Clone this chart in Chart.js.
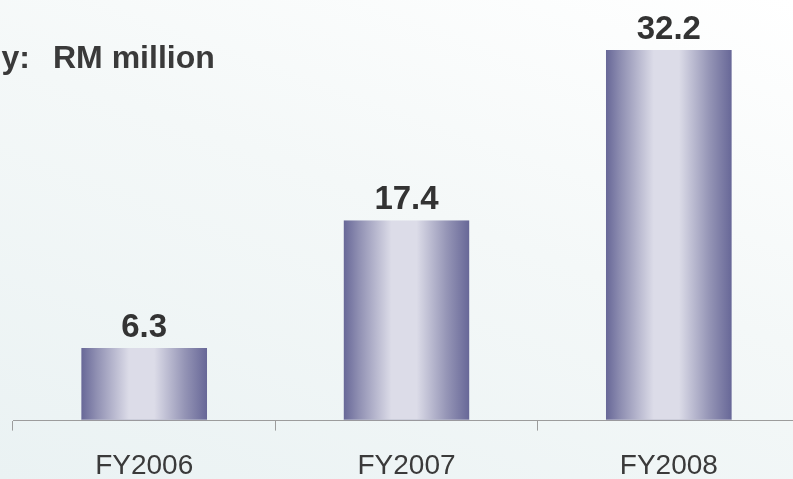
<!DOCTYPE html>
<html>
<head>
<meta charset="utf-8">
<script src="https://cdn.jsdelivr.net/npm/chart.js@4.4.1/dist/chart.umd.min.js"></script>
<style>
    html, body { margin: 0; padding: 0; overflow: hidden; }
    body {
        width: 793px;
        height: 479px;
        background: linear-gradient(200deg, #ffffff 0%, #f4f8f8 45%, #eaf2f3 100%);
    }
    #wrap { position: relative; width: 813px; height: 502px; }
</style>
</head>
<body>
<div id="wrap"><canvas id="graficoLucro"></canvas></div>
<script>
const anos = ['FY2006', 'FY2007', 'FY2008'];
const lucro = [6.3, 17.4, 32.2];
const unidade = 'RM million';

const larguraBarra = 0.48;

// gradiente horizontal de cada barra: escuro nas bordas, claro no meio
function corBarra(ctx) {
    const chart = ctx.chart;
    const area = chart.chartArea;
    if (!area || ctx.type !== 'data') return '#a9a9c6';
    const x = chart.scales.x;
    const centro = x.getPixelForValue(ctx.dataIndex);
    const meia = (x.width / anos.length) * larguraBarra / 2;
    const g = chart.ctx.createLinearGradient(centro - meia, 0, centro + meia, 0);
    g.addColorStop(0, '#676797');
    g.addColorStop(0.12, '#8f8fb2');
    g.addColorStop(0.38, '#dcdce8');
    g.addColorStop(0.58, '#dcdce8');
    g.addColorStop(0.82, '#9595b6');
    g.addColorStop(1, '#676797');
    return g;
}

const rotulosValor = {
    id: 'rotulosValor',
    afterDatasetsDraw(chart) {
        const c = chart.ctx;
        const meta = chart.getDatasetMeta(0);
        c.save();
        c.font = 'bold 33px "Liberation Sans", Arial, sans-serif';
        c.fillStyle = '#333333';
        c.textAlign = 'center';
        c.textBaseline = 'alphabetic';
        meta.data.forEach((bar, i) => {
            c.fillText(lucro[i].toFixed(1), bar.x, bar.y - 11);
        });
        c.restore();
    }
};

const tituloUnidade = {
    id: 'tituloUnidade',
    afterDraw(chart) {
        const c = chart.ctx;
        c.save();
        c.font = 'bold 32px "Liberation Sans", Arial, sans-serif';
        c.fillStyle = '#3a3a3a';
        c.textBaseline = 'alphabetic';
        c.textAlign = 'right';
        c.fillText('y:', 30, 68);
        c.textAlign = 'left';
        c.fillText(unidade, 53, 68);
        c.restore();
    }
};

new Chart(document.getElementById('graficoLucro'), {
    type: 'bar',
    data: {
        labels: anos,
        datasets: [{
            data: lucro,
            backgroundColor: corBarra,
            borderColor: '#8c89a8',
            borderWidth: { top: 0, left: 0, right: 0, bottom: 1 },
            borderSkipped: false,
            categoryPercentage: 1,
            barPercentage: larguraBarra
        }]
    },
    options: {
        responsive: true,
        maintainAspectRatio: false,
        animation: false,
        layout: { padding: { left: 13, right: 13, top: 0, bottom: 0 } },
        plugins: {
            legend: { display: false },
            tooltip: { enabled: false }
        },
        scales: {
            x: {
                grid: {
                    drawOnChartArea: false,
                    drawTicks: true,
                    tickLength: 10,
                    color: '#9c9c9c',
                    offset: true
                },
                border: { color: '#9c9c9c', width: 1 },
                ticks: {
                    color: '#3a3a3a',
                    padding: 21,
                    font: { family: '"Liberation Sans", Arial, sans-serif', size: 28, lineHeight: 1.05 }
                }
            },
            y: {
                display: false,
                min: 0,
                max: 36.55
            }
        }
    },
    plugins: [rotulosValor, tituloUnidade]
});
</script>
</body>
</html>
